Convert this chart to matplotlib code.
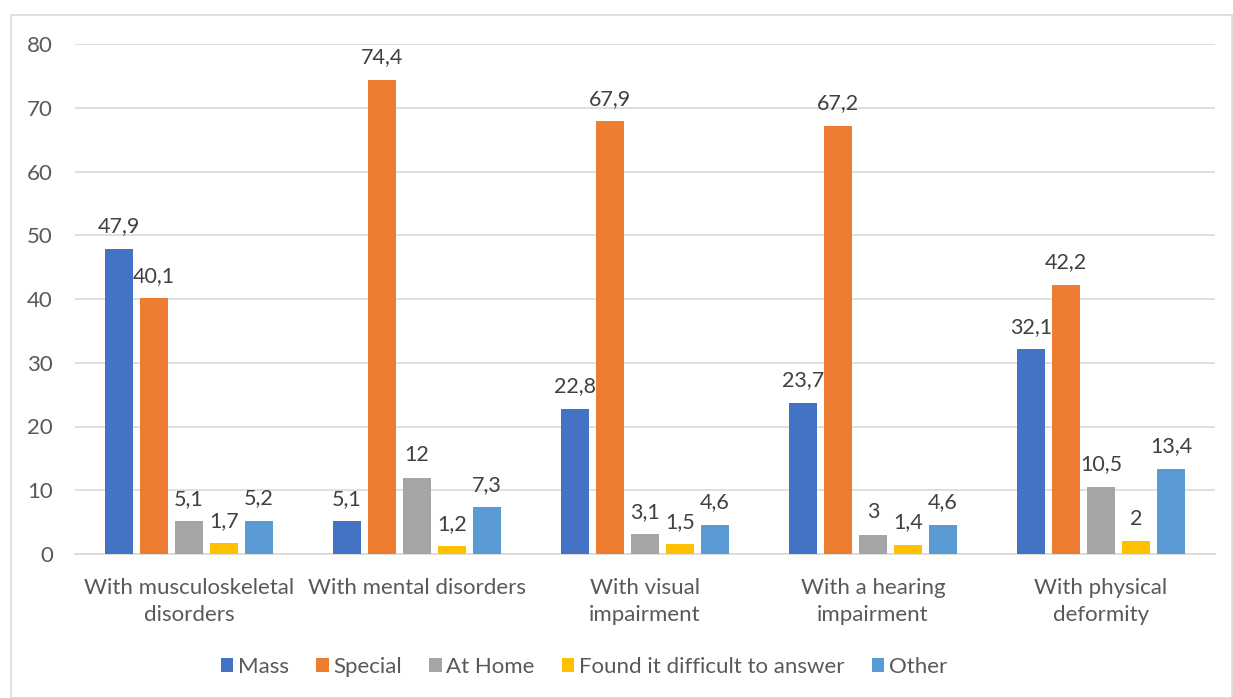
import numpy as np
import matplotlib
matplotlib.use("Agg")
import matplotlib.pyplot as plt
from matplotlib.patches import Rectangle

plt.rcParams['font.family'] = ['Lato', 'DejaVu Sans']

# data
categories = ['With musculoskeletal\ndisorders', 'With mental disorders',
              'With visual\nimpairment', 'With a hearing\nimpairment',
              'With physical\ndeformity']
series_names = ['Mass', 'Special', 'At Home', 'Found it difficult to answer', 'Other']
mass = [47.9, 5.1, 22.8, 23.7, 32.1]
special = [40.1, 74.4, 67.9, 67.2, 42.2]
at_home = [5.1, 12, 3.1, 3, 10.5]
difficult = [1.7, 1.2, 1.5, 1.4, 2]
other = [5.2, 7.3, 4.6, 4.6, 13.4]
colors = ['#4472C4', '#ED7D31', '#A5A5A5', '#FFC000', '#5B9BD5']


def fmt(v):
    s = f"{v:g}"
    return s.replace('.', ',')


fig = plt.figure(figsize=(12.33, 6.98), dpi=100)
ax = fig.add_axes([75 / 1233, 1 - 554 / 698, 1140 / 1233, 510 / 698])

# chart border like excel
fig.patches.append(Rectangle((11 / 1233, 0.5 / 698), 1221 / 1233, (698 - 15.5) / 698,
                             transform=fig.transFigure, fill=False,
                             edgecolor='#D9D9D9', linewidth=1.2))

x = np.arange(len(categories))
pitch = 0.1535
width = 0.123
all_series = [mass, special, at_home, difficult, other]
for i, (name, vals) in enumerate(zip(series_names, all_series)):
    pos = x + (i - 2) * pitch
    bars = ax.bar(pos, vals, width, color=colors[i], label=name, zorder=3)
    for b, v in zip(bars, vals):
        ax.annotate(fmt(v), (b.get_x() + b.get_width() / 2, v),
                    xytext=(0, 9), textcoords='offset points',
                    ha='center', va='bottom', fontsize=15.5, color='#404040')

ax.set_xlim(-0.5, 4.5)
ax.set_ylim(0, 80)
ax.set_yticks(range(0, 81, 10))
ax.grid(axis='y', color='#D9D9D9', linewidth=1.2, zorder=0)
ax.set_xticks(x)
ax.set_xticklabels(categories, fontsize=16, color='#595959', linespacing=1.45)
ax.tick_params(axis='x', length=0, pad=17)
ax.tick_params(axis='y', length=0, pad=16, labelsize=16, labelcolor='#595959')
for s in ['top', 'right', 'left']:
    ax.spines[s].set_visible(False)
ax.spines['bottom'].set_color('#D9D9D9')
ax.spines['bottom'].set_linewidth(1.2)

fig.legend(loc='center', bbox_to_anchor=(584 / 1233, 1 - 667 / 698), ncol=5, frameon=False,
           fontsize=16, labelcolor='#595959', handlelength=0.55, handleheight=0.55,
           handletextpad=0.2, columnspacing=1.25)

fig.savefig('out.png', dpi=100)
